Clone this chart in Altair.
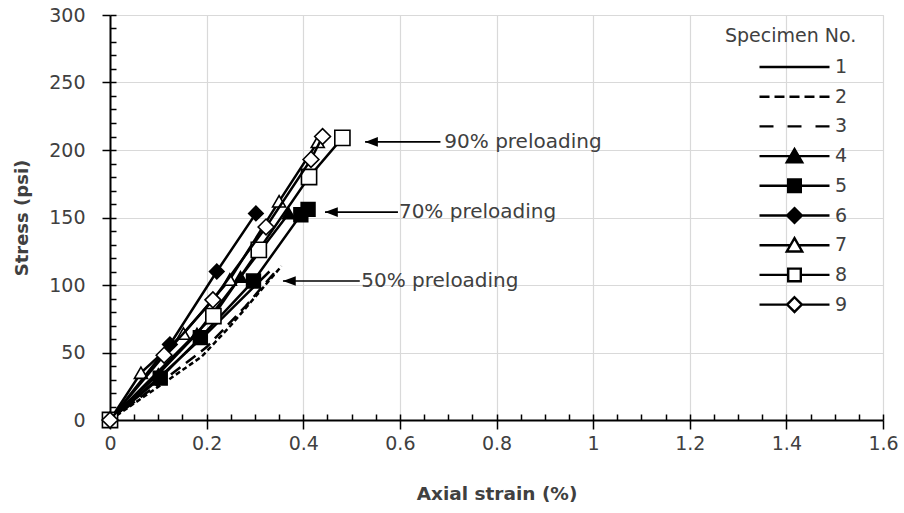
import altair as alt
import pandas as pd
import numpy as np

# ---- specimen curves: axial strain (%) vs stress (psi) ----
specimens = ["1", "2", "3", "4", "5", "6", "7", "8", "9"]

strain_1 = [0, 0.10, 0.20, 0.33]
stress_1 = [0, 31, 64, 110]
strain_2 = [0, 0.13, 0.19, 0.25, 0.355]
stress_2 = [0, 32, 47, 70, 114]
strain_3 = [0, 0.12, 0.20, 0.28, 0.345]
stress_3 = [0, 32, 54, 84, 111]
strain_4 = [0, 0.10, 0.18, 0.27, 0.37]
stress_4 = [0, 34, 64, 106, 153]
strain_5 = [0, 0.104, 0.187, 0.297, 0.395, 0.41]
stress_5 = [0, 31, 61, 103, 152, 156]
strain_6 = [0, 0.124, 0.221, 0.302]
stress_6 = [0, 56, 110, 153]
strain_7 = [0, 0.064, 0.152, 0.248, 0.35, 0.43]
stress_7 = [0, 35, 64, 104, 162, 206]
strain_8 = [0, 0.214, 0.308, 0.412, 0.481]
stress_8 = [0, 77, 126, 180, 209]
strain_9 = [0, 0.112, 0.213, 0.323, 0.416, 0.44]
stress_9 = [0, 48, 89, 143, 193, 210]

strains = [strain_1, strain_2, strain_3, strain_4, strain_5,
           strain_6, strain_7, strain_8, strain_9]
stresses = [stress_1, stress_2, stress_3, stress_4, stress_5,
            stress_6, stress_7, stress_8, stress_9]

# ---- preloading call-outs ----
note_text = ["90% preloading", "70% preloading", "50% preloading"]
note_y = [206, 154, 103]
arrow_head_x = [0.528, 0.445, 0.358]
arrow_tail_x = [0.684, 0.596, 0.517]
note_x = [0.692, 0.598, 0.520]

# ---- axis ticks ----
x_major = [0, 0.2, 0.4, 0.6, 0.8, 1.0, 1.2, 1.4, 1.6]
y_major = [0, 50, 100, 150, 200, 250, 300]
x_minor = [round(v, 2) for v in np.arange(0, 1.6001, 0.05)]
y_minor = [int(v) for v in np.arange(0, 301, 10)]

rows = []
for sid, xs, ys in zip(specimens, strains, stresses):
    for i, (a, b) in enumerate(zip(xs, ys)):
        rows.append({"spec": sid, "strain": a, "stress": b, "idx": i})
df = pd.DataFrame(rows)

notes = pd.DataFrame({"text": note_text, "y": note_y, "head": arrow_head_x,
                      "tail": arrow_tail_x, "tx": note_x})

FONT = "DejaVu Sans"
TXT = "#404040"
W, H = 773, 405

xscale = alt.Scale(domain=[0, 1.6], nice=False, zero=False)
yscale = alt.Scale(domain=[0, 300], nice=False, zero=False)

X = alt.X("strain:Q", scale=xscale, axis=None)
Y = alt.Y("stress:Q", scale=yscale, axis=None)

# line dash and marker style per specimen
dash = {"1": None, "2": [5, 3], "3": [12, 7]}
markers = {
    "4": ("triangle-up", "black", 150),
    "5": ("square", "black", 190),
    "6": ("diamond", "black", 210),
    "7": ("triangle-up", "white", 170),
    "8": ("square", "white", 230),
    "9": ("diamond", "white", 250),
}

layers = []

# axes with labels, grid and outward ticks
main_axes = alt.Chart(df).mark_point(opacity=0).encode(
    x=alt.X("strain:Q", scale=xscale, axis=alt.Axis(
        orient="bottom", values=x_major, format=".1~f", grid=True,
        gridColor="#d9d9d9", gridWidth=1.2, tickSize=9, tickColor="black",
        tickWidth=1.5, domainColor="black", domainWidth=2,
        labelFont=FONT, labelFontSize=19, labelColor=TXT, labelPadding=5,
        title="Axial strain (%)", titleFont=FONT, titleFontSize=18.5,
        titleFontWeight="bold", titleColor=TXT, titleX=W / 2, titleY=73,
        titleBaseline="middle", labelFlush=False)),
    y=alt.Y("stress:Q", scale=yscale, axis=alt.Axis(
        orient="left", values=y_major, grid=True, gridColor="#d9d9d9",
        gridWidth=1.2, tickSize=8, tickColor="black", tickWidth=1.5,
        domainColor="black", domainWidth=2, labelFont=FONT,
        labelFontSize=19, labelColor=TXT, labelPadding=17,
        title="Stress (psi)", titleFont=FONT, titleFontSize=18,
        titleFontWeight="bold", titleColor=TXT, titleX=-88, titleY=H / 2,
        titleBaseline="middle", titleAngle=270, labelFlush=False)),
)
layers.append(main_axes)

# inward minor ticks
inner_ticks = alt.Chart(df).mark_point(opacity=0).encode(
    x=alt.X("strain:Q", scale=xscale, axis=alt.Axis(
        orient="bottom", values=x_minor, offset=-6, tickSize=6,
        tickColor="black", tickWidth=1.5, labels=False, domain=False,
        grid=False, title=None)),
    y=alt.Y("stress:Q", scale=yscale, axis=alt.Axis(
        orient="left", values=y_minor, offset=-6, tickSize=6,
        tickColor="black", tickWidth=1.5, labels=False, domain=False,
        grid=False, title=None)),
)
layers.append(inner_ticks)

for sid in specimens:
    sub = alt.Chart(df).transform_filter(alt.datum.spec == sid)
    line_kw = dict(color="black", strokeWidth=2.5)
    if dash.get(sid):
        line_kw["strokeDash"] = dash[sid]
    layers.append(sub.mark_line(**line_kw).encode(x=X, y=Y, order="idx:Q"))
    if sid in markers:
        shape, fill, size = markers[sid]
        layers.append(sub.mark_point(
            shape=shape, filled=True, fill=fill, stroke="black",
            strokeWidth=1.6, size=size, opacity=1).encode(x=X, y=Y))

# call-out arrows and texts
layers.append(alt.Chart(notes).mark_rule(color="black", strokeWidth=1.6).encode(
    x=alt.X("head:Q", scale=xscale, axis=None), x2="tail:Q",
    y=alt.Y("y:Q", scale=yscale, axis=None)))
layers.append(alt.Chart(notes).mark_point(
    shape="M0,0L1.6,-0.6L1.6,0.6Z", filled=True, color="black", size=256,
    opacity=1).encode(
    x=alt.X("head:Q", scale=xscale, axis=None),
    y=alt.Y("y:Q", scale=yscale, axis=None)))
layers.append(alt.Chart(notes).mark_text(
    align="left", baseline="middle", font=FONT, fontSize=20, color=TXT).encode(
    x=alt.X("tx:Q", scale=xscale, axis=None),
    y=alt.Y("y:Q", scale=yscale, axis=None), text="text:N"))

# legend: line sample with marker for each specimen
solid = "M-1,0H1"
short_dash = "M-1,0H-0.714M-0.571,0H-0.286M-0.143,0H0.143M0.286,0H0.571M0.714,0H1"
long_dash = "M-1,0H-0.6M-0.2,0H0.2M0.6,0H1"
tri = "M0,-0.2L0.22,0.18L-0.22,0.18Z"
sq = "M-0.18,-0.18H0.18V0.18H-0.18Z"
dia = "M0,-0.21L0.21,0L0,0.21L-0.21,0Z"
legend_paths = [
    solid, short_dash, long_dash,
    solid + tri, solid + sq, solid + dia,
    "M-1,0H-0.116M0.116,0H1" + tri,
    "M-1,0H-0.18M0.18,0H1" + sq,
    "M-1,0H-0.21M0.21,0H1" + dia,
]
legend_fill = ["transparent"] * 3 + ["black"] * 3 + ["white"] * 3
legend_stroke = ["black"] * 9

layers.append(alt.Chart(df).transform_filter("false").mark_point(
    filled=False, strokeWidth=2.4, size=4900, opacity=1).encode(
    shape=alt.Shape("spec:N", scale=alt.Scale(domain=specimens, range=legend_paths),
                    legend=alt.Legend(
                        title="Specimen No.", orient="none", legendX=615,
                        legendY=12, padding=0, symbolSize=4900,
                        symbolStrokeWidth=2.4, symbolOffset=33,
                        clipHeight=20, rowPadding=9.7, titlePadding=11,
                        labelOffset=4, labelFont=FONT, labelFontSize=19,
                        labelColor=TXT, titleFont=FONT, titleFontSize=19,
                        titleFontWeight="normal", titleColor=TXT)),
    fill=alt.Fill("spec:N", scale=alt.Scale(domain=specimens, range=legend_fill)),
    stroke=alt.Stroke("spec:N", scale=alt.Scale(domain=specimens, range=legend_stroke)),
))

chart = alt.layer(*layers).resolve_axis(x="independent", y="independent").properties(
    width=W, height=H,
    autosize=alt.AutoSizeParams(type="none"),
    padding={"left": 110, "top": 15, "right": 21, "bottom": 93},
).configure_view(stroke="#595959", strokeWidth=1.5).configure(background="white")

chart.save("out.html", embed_options={"renderer": "svg", "actions": False})
